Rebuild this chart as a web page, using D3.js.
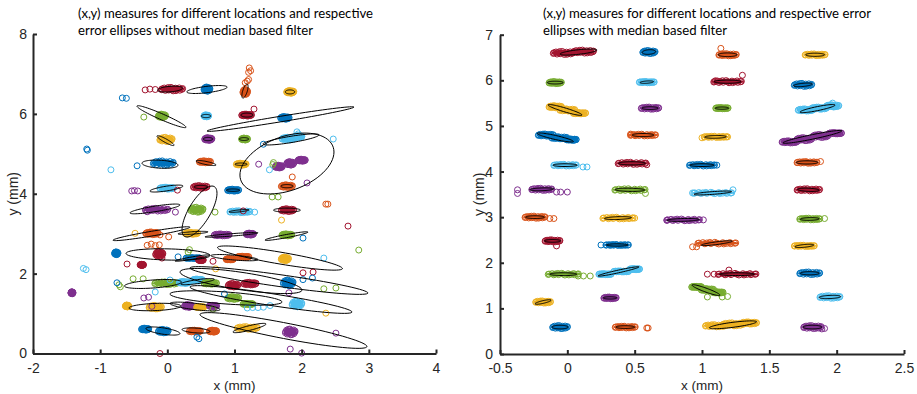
<!DOCTYPE html>
<html><head><meta charset="utf-8">
<script src="https://cdn.jsdelivr.net/npm/d3@7"></script>
<style>body{margin:0;background:#fff}svg{display:block}</style>
</head><body><svg id="c" width="917" height="394"></svg>
<script>
// MATLAB default colour order
const COLORS = {B:"#0072BD", O:"#D95319", Y:"#EDB120", P:"#7E2F8E", G:"#77AC30", C:"#4DBEEE", R:"#A2142F"};

// ---------- LEFT PANEL (without median filter) ----------
const leftXTicks = [-2,-1,0,1,2,3,4];
const leftYTicks = [0,2,4,6,8];
const leftTitle = ["(x,y) measures for different locations and respective","error ellipses without median based filter"];
// dense clusters: [x, y, halfWidth, halfHeight, colour]
const leftBlobs = [
[0.07,6.62,0.21,0.12,"R"],[0.59,6.62,0.09,0.13,"B"],[1.16,6.55,0.08,0.14,"O"],[1.83,6.55,0.1,0.11,"Y"],
[-0.08,5.95,0.1,0.12,"G"],[0.58,5.95,0.08,0.1,"C"],[1.18,5.97,0.12,0.1,"R"],[1.75,5.9,0.11,0.11,"B"],
[-0.02,5.36,0.14,0.13,"Y"],[0.61,5.37,0.1,0.11,"P"],[1.15,5.37,0.09,0.1,"G"],[1.8,5.38,0.14,0.11,"C"],[1.95,5.43,0.1,0.1,"C"],
[-0.06,4.77,0.2,0.13,"B"],[0.56,4.8,0.13,0.1,"O"],[1.1,4.74,0.12,0.1,"Y"],[1.66,4.68,0.1,0.11,"P"],[1.83,4.76,0.1,0.12,"P"],[2.0,4.84,0.1,0.1,"P"],
[-0.01,4.14,0.15,0.1,"C"],[0.49,4.17,0.15,0.11,"R"],[0.98,4.09,0.13,0.1,"B"],[1.78,4.19,0.13,0.11,"O"],
[-0.16,3.6,0.22,0.11,"P"],[0.44,3.6,0.14,0.14,"G"],[1.08,3.55,0.2,0.1,"C"],[1.79,3.59,0.14,0.11,"R"],
[-0.23,3.01,0.14,0.11,"O"],[0.36,3.01,0.14,0.1,"Y"],[0.81,2.97,0.16,0.1,"P"],[1.23,2.99,0.1,0.1,"P"],[1.78,2.97,0.12,0.1,"G"],
[-0.76,2.51,0.07,0.11,"B"],[-0.12,2.49,0.1,0.14,"R"],[-0.38,2.22,0.07,0.07,"R"],[0.38,2.39,0.15,0.08,"B"],[0.5,2.34,0.08,0.08,"R"],
[0.93,2.36,0.1,0.09,"O"],[1.13,2.42,0.13,0.09,"O"],[1.75,2.37,0.1,0.12,"Y"],
[-0.02,1.76,0.22,0.11,"G"],[0.25,1.78,0.12,0.1,"C"],[0.45,1.84,0.12,0.1,"C"],[0.64,1.76,0.14,0.1,"G"],
[0.98,1.71,0.12,0.12,"R"],[1.23,1.75,0.14,0.11,"R"],[1.8,1.77,0.12,0.15,"B"],[-1.42,1.52,0.06,0.1,"P"],
[-0.6,1.19,0.07,0.1,"Y"],[-0.18,1.16,0.14,0.12,"Y"],[0.31,1.19,0.1,0.11,"P"],[0.49,1.16,0.1,0.09,"Y"],[0.68,1.19,0.1,0.09,"P"],
[0.98,1.39,0.13,0.11,"G"],[1.2,1.24,0.12,0.09,"G"],[1.93,1.24,0.12,0.15,"C"],
[-0.33,0.61,0.1,0.1,"B"],[-0.06,0.56,0.12,0.12,"B"],[0.41,0.56,0.13,0.1,"O"],[0.68,0.56,0.1,0.1,"O"],
[1.19,0.64,0.2,0.11,"Y"],[1.83,0.54,0.12,0.15,"P"]
];
// scattered single measures: [x, y, colour]
const leftOutliers = [
[-0.33,6.6,"R"],[-0.26,6.62,"R"],[-0.18,6.61,"R"],[1.29,6.12,"R"],[0.15,4.09,"R"],[1.13,3.57,"R"],[2.69,3.19,"R"],[-0.6,2.24,"R"],[2.02,2.02,"R"],[2.17,2.04,"R"],[-0.11,0.0,"R"],[-0.08,2.39,"R"],[0.68,2.31,"R"],
[1.22,7.15,"O"],[1.24,7.08,"O"],[1.21,7.04,"O"],[1.19,6.82,"O"],[1.21,6.86,"O"],[1.16,6.78,"O"],[1.86,4.42,"O"],[2.36,3.74,"O"],[2.39,3.74,"O"],[-0.3,2.71,"O"],[-0.24,2.74,"O"],[-0.18,2.7,"O"],[-0.12,2.72,"O"],[-0.11,2.97,"O"],[0.02,2.92,"O"],
[-0.48,3.01,"Y"],[1.7,3.34,"Y"],[0.72,2.12,"Y"],[2.36,1.01,"Y"],
[-0.53,4.07,"P"],[-0.49,4.08,"P"],[-0.44,4.07,"P"],[1.36,4.74,"P"],[2.08,4.27,"P"],[-0.3,3.55,"P"],[0.12,3.54,"P"],[-0.35,1.39,"P"],[-0.28,1.41,"P"],[-0.23,1.18,"P"],[1.81,1.52,"P"],[2.51,0.51,"P"],[1.83,0.11,"P"],[2.0,0.01,"P"],
[-0.35,5.92,"G"],[1.57,4.73,"G"],[1.58,4.78,"G"],[1.56,3.92,"G"],[1.65,3.92,"G"],[0.71,3.54,"G"],[2.85,2.59,"G"],[0.31,2.54,"G"],[0.33,2.6,"G"],[-0.7,1.67,"G"],[-0.72,1.72,"G"],[-0.51,1.87,"G"],[-0.36,1.87,"G"],[2.33,1.62,"G"],[2.51,1.64,"G"],[0.68,1.11,"G"],
[-0.67,6.4,"B"],[-0.61,6.39,"B"],[-1.2,5.12,"B"],[-1.19,5.09,"B"],[-0.45,4.7,"B"],[1.43,5.24,"B"],[2.02,2.89,"B"],[2.02,1.85,"B"],[2.16,1.89,"B"],[0.85,1.49,"B"],[0.44,0.41,"B"],[0.47,0.37,"B"],[-0.75,1.77,"B"],[0.16,2.42,"B"],
[-0.84,4.6,"C"],[1.93,5.55,"C"],[1.95,5.5,"C"],[2.47,5.37,"C"],[1.52,4.6,"C"],[1.3,3.54,"C"],[-1.25,2.13,"C"],[-1.21,2.1,"C"],[2.33,2.39,"C"],[-0.18,1.54,"C"],[0.04,1.84,"C"],[1.19,1.14,"C"],[1.27,1.15,"C"],[1.35,1.15,"C"],[1.43,1.16,"C"],[1.53,1.2,"C"]
];
// error ellipses: [cx, cy, ux, uy, vx, vy] (two conjugate semi-diameters, data units)
const leftEllipses = [
[0.04,6.62,0.186,0.025,0,0.07],[0.59,6.61,0.30,0.06,0,0.08],[1.156,6.57,0.03,0.175,0.035,0],[1.826,6.55,0.07,0,0,0.05],
[-0.087,5.93,0.365,-0.263,0,0.08],[0.576,5.946,0.07,0,0,0.04],[1.186,5.97,0.09,0,0,0.05],[1.685,5.87,1.094,0.30,0,0.07],
[-0.027,5.33,0.127,-0.113,0,0.05],[0.605,5.37,0.07,0,0,0.04],[1.141,5.37,0.07,0,0,0.035],[1.841,5.36,0.417,0.113,0,0.08],
[1.781,4.757,0.70,0.288,0,0.706],[-0.109,4.74,0.268,-0.025,0,0.1],[0.576,4.77,0.149,-0.05,0,0.04],[1.097,4.74,0.09,0,0,0.03],
[1.781,4.19,0.09,0,0,0.04],[-0.013,4.13,0.246,0.063,0,0.06],[0.50,4.17,0.1,0,0,0.04],[0.479,3.555,0.186,0.638,0.182,0],
[0.978,4.09,0.1,0,0,0.03],[-0.184,3.62,0.372,0.1,0,0.07],[1.067,3.57,0.149,0.025,0,0.025],[1.781,3.59,0.2,0,0,0.05],
[-0.236,3.0,0.573,0.163,0,0.06],[0.382,3.02,0.223,0.025,0,0.03],[0.955,2.97,0.395,0.05,0,0.03],[1.774,2.94,0.32,0.1,0,0.04],
[0.01,2.48,0.625,-0.025,0,0.14],[0.375,2.39,0.26,0.075,0,0.03],[1.0,2.4,0.35,-0.05,0,0.06],[1.677,2.39,0.93,-0.263,0,0.15],
[1.097,1.815,0.908,-0.225,0,0.22],[1.662,1.828,1.325,-0.313,0,0.15],[0.873,1.39,0.834,-0.1,0,0.15],[1.543,1.352,1.206,-0.313,0,0.15],
[1.729,0.576,1.243,-0.4,0,0.2],[-0.214,1.74,0.424,0.05,0,0.1],[-0.184,1.164,0.387,0.025,0,0.09],[0.412,1.177,0.372,-0.075,0,0.08],
[-0.065,0.563,0.253,-0.063,0,0.08],[0.427,0.576,0.208,-0.025,0,0.06],[1.223,0.638,0.246,0.1,0,0.06],[0.45,1.8,0.25,0.06,0,0.05]
];

// ---------- RIGHT PANEL (with median filter) ----------
const rightXTicks = [-0.5,0,0.5,1,1.5,2,2.5];
const rightYTicks = [0,1,2,3,4,5,6,7];
const rightTitle = ["(x,y) measures for different locations and respective error","ellipses with median based filter"];
const rightBlobs = [
[-0.03,6.6,0.1,0.1,"R"],[0.12,6.63,0.1,0.1,"R"],[0.606,6.62,0.07,0.1,"B"],[1.19,6.56,0.09,0.09,"O"],[1.84,6.56,0.1,0.085,"Y"],
[-0.09,5.95,0.07,0.09,"G"],[0.59,5.96,0.08,0.08,"C"],[1.19,5.97,0.13,0.09,"R"],[1.75,5.9,0.09,0.1,"B"],
[-0.09,5.42,0.07,0.09,"Y"],[0.0,5.35,0.08,0.09,"Y"],[0.09,5.28,0.07,0.08,"Y"],[0.614,5.39,0.09,0.09,"P"],[1.148,5.39,0.07,0.08,"G"],
[1.77,5.35,0.08,0.09,"C"],[1.87,5.39,0.08,0.09,"C"],[1.97,5.44,0.07,0.09,"C"],
[-0.16,4.8,0.08,0.09,"B"],[-0.06,4.74,0.08,0.09,"B"],[0.03,4.7,0.06,0.08,"B"],[0.562,4.8,0.12,0.085,"O"],[1.1,4.76,0.11,0.08,"Y"],
[1.65,4.65,0.08,0.09,"P"],[1.76,4.71,0.08,0.1,"P"],[1.88,4.78,0.08,0.1,"P"],[1.99,4.84,0.07,0.08,"P"],
[-0.017,4.14,0.11,0.085,"C"],[0.48,4.18,0.13,0.09,"R"],[1.0,4.14,0.12,0.085,"B"],[1.78,4.2,0.1,0.085,"O"],
[-0.19,3.61,0.1,0.09,"P"],[0.465,3.6,0.14,0.09,"G"],[1.08,3.53,0.17,0.08,"C"],[1.79,3.6,0.11,0.09,"R"],
[-0.24,3.0,0.1,0.09,"O"],[0.376,2.98,0.14,0.085,"Y"],[0.86,2.94,0.15,0.085,"P"],[1.8,2.96,0.1,0.085,"G"],
[-0.11,2.48,0.08,0.09,"R"],[0.37,2.39,0.11,0.075,"B"],[1.11,2.43,0.17,0.085,"O"],[1.76,2.37,0.1,0.08,"Y"],
[-0.03,1.75,0.14,0.085,"G"],[0.28,1.75,0.07,0.07,"C"],[0.4,1.81,0.08,0.075,"C"],[0.5,1.86,0.06,0.07,"C"],[1.26,1.75,0.17,0.085,"R"],[1.8,1.77,0.1,0.095,"B"],
[-0.18,1.14,0.08,0.09,"Y"],[0.317,1.23,0.07,0.085,"P"],[0.96,1.47,0.06,0.08,"G"],[1.04,1.41,0.07,0.09,"G"],[1.12,1.35,0.06,0.08,"G"],[1.95,1.25,0.1,0.095,"C"],
[-0.054,0.59,0.08,0.1,"B"],[0.43,0.59,0.1,0.085,"O"],[1.1,0.62,0.1,0.09,"Y"],[1.23,0.65,0.1,0.1,"Y"],[1.35,0.68,0.08,0.09,"Y"],[1.82,0.59,0.09,0.1,"P"]
];
const rightOutliers = [
[1.14,6.7,"O"],[0.47,4.82,"O"],[1.88,4.22,"O"],[-0.13,2.97,"O"],[-0.1,2.97,"O"],[0.93,2.35,"O"],[0.96,2.35,"O"],[0.59,0.57,"O"],[0.6,0.57,"O"],
[1.1,5.99,"R"],[1.3,6.11,"R"],[0.59,4.15,"R"],[-0.08,2.37,"R"],[1.04,1.75,"R"],[1.09,1.75,"R"],[1.2,1.84,"R"],
[1.97,5.5,"C"],[1.98,5.42,"C"],[1.95,5.45,"C"],[0.116,4.1,"C"],[0.146,4.1,"C"],[0.93,3.53,"C"],[1.23,3.6,"C"],
[0.05,4.69,"B"],[1.11,4.14,"B"],[0.25,2.39,"B"],
[1.0,4.74,"Y"],[1.19,4.76,"Y"],[0.5,2.98,"Y"],
[-0.37,3.6,"P"],[-0.37,3.52,"P"],[-0.08,3.55,"P"],[-0.05,3.55,"P"],[0.0,3.55,"P"],[0.74,2.93,"P"],[1.01,2.94,"P"],[1.89,0.55,"P"],[1.91,0.56,"P"],
[0.58,3.52,"G"],[0.08,1.71,"G"],[0.12,1.71,"G"],[0.17,1.71,"G"],[1.04,1.25,"G"],[1.15,1.25,"G"],[1.19,1.26,"G"],[1.91,2.97,"G"]
];
const rightEllipses = [
[0.083,6.62,0.137,0.044,0,0.05],[0.606,6.62,0.05,0.01,0,0.05],[1.19,6.56,0.07,0,0,0.04],[1.84,6.56,0.07,0,0,0.035],
[-0.09,5.95,0.06,0,0,0.03],[0.59,5.96,0.05,0.01,0,0.025],[1.19,5.97,0.1,0,0,0.035],[1.75,5.9,0.07,0.02,0,0.035],
[-0.017,5.35,0.126,-0.11,0,0.045],[0.614,5.39,0.06,0,0,0.03],[1.148,5.39,0.05,0,0,0.025],[1.858,5.38,0.13,0.077,0,0.045],
[-0.089,4.747,0.134,-0.088,0,0.045],[0.562,4.8,0.08,0,0,0.035],[1.1,4.76,0.08,0.005,0,0.03],[1.82,4.76,0.219,0.132,0,0.05],
[-0.017,4.14,0.09,0,0,0.03],[0.48,4.18,0.1,0,0,0.035],[1.0,4.14,0.09,0,0,0.03],[1.78,4.2,0.08,0,0,0.035],
[-0.19,3.61,0.09,0.01,0,0.03],[0.465,3.6,0.11,-0.005,0,0.035],[1.08,3.53,0.14,0.03,0,0.03],[1.79,3.6,0.08,-0.01,0,0.035],
[-0.24,3.0,0.07,0,0,0.03],[0.376,2.98,0.1,0.01,0,0.03],[0.86,2.94,0.12,0.01,0,0.03],[1.8,2.96,0.07,0.005,0,0.03],
[-0.11,2.48,0.06,0,0,0.03],[0.37,2.39,0.08,0,0,0.025],[1.11,2.43,0.115,0.044,0,0.03],[1.76,2.37,0.07,0.02,0,0.03],
[-0.03,1.75,0.1,0,0,0.03],[0.38,1.81,0.152,0.099,0,0.03],[1.26,1.75,0.13,0,0,0.03],[1.8,1.77,0.07,0,0,0.035],
[-0.18,1.14,0.06,0.04,0,0.03],[0.317,1.23,0.05,0,0,0.025],[1.03,1.40,0.104,-0.11,0,0.045],[1.95,1.25,0.08,0.01,0,0.035],
[-0.054,0.59,0.06,0,0,0.04],[0.43,0.59,0.07,0,0,0.03],[1.23,0.64,0.175,0.066,0,0.055],[1.82,0.59,0.07,0,0,0.04]
];

// marker layout inside a dense cluster (unit offsets) – a drawing template
const blobTemplate = [[0,0],[0.5,0.2],[-0.5,-0.2],[0.3,-0.5],[-0.3,0.5],[0.9,0.1],[-0.9,-0.1],[0.7,0.6],[-0.7,-0.6],
  [0.65,-0.65],[-0.6,0.7],[0.1,0.95],[-0.1,-0.95],[0.95,-0.3],[-0.95,0.3],[0.35,0.85],[-0.35,-0.85]];

const svg = d3.select("#c");
const MR = 3; // marker radius
const TXT = "#262626";
const FONT = "'Liberation Sans', Arial, sans-serif";

function panel(cfg){
  const x = d3.scaleLinear().domain(cfg.xd).range(cfg.xr);
  const y = d3.scaleLinear().domain(cfg.yd).range(cfg.yr);
  const g = svg.append("g");

  // dense clusters
  cfg.blobs.forEach(b=>{
    const [bx,by,rx,ry,c] = b;
    const sx = Math.max(0.5, Math.abs(x(bx+rx)-x(bx)) - MR);
    const sy = Math.max(0.5, Math.abs(y(by+ry)-y(by)) - MR);
    const cxp = x(bx), cyp = y(by);
    g.append("ellipse").attr("cx",cxp).attr("cy",cyp).attr("rx",sx+1.5).attr("ry",sy+1.5)
      .attr("fill",COLORS[c]);
    g.selectAll(null).data(blobTemplate).enter().append("circle")
      .attr("cx",d=>cxp+d[0]*sx).attr("cy",d=>cyp+d[1]*sy).attr("r",MR)
      .attr("fill","none").attr("stroke",COLORS[c]).attr("stroke-width",1);
  });
  // single measures
  g.selectAll(null).data(cfg.outliers).enter().append("circle")
    .attr("cx",d=>x(d[0])).attr("cy",d=>y(d[1])).attr("r",MR)
    .attr("fill","none").attr("stroke",d=>COLORS[d[2]]).attr("stroke-width",1);

  // error ellipses
  const ts = d3.range(0, 73).map(i=>i/72*2*Math.PI);
  const line = d3.line().x(p=>x(p[0])).y(p=>y(p[1]));
  cfg.ellipses.forEach(e=>{
    const [cx,cy,ux,uy,vx,vy] = e;
    const pts = ts.map(t=>[cx+ux*Math.cos(t)+vx*Math.sin(t), cy+uy*Math.cos(t)+vy*Math.sin(t)]);
    g.append("path").attr("d",line(pts)).attr("fill","none").attr("stroke","#000").attr("stroke-width",1);
  });

  // axes
  const ax = g.append("g").attr("transform",`translate(0,${cfg.yr[0]})`)
    .call(d3.axisBottom(x).tickValues(cfg.xt).tickFormat(d=>String(d)).tickSizeInner(-4).tickSizeOuter(0).tickPadding(9.5));
  const ay = g.append("g").attr("transform",`translate(${cfg.xr[0]},0)`)
    .call(d3.axisLeft(y).tickValues(cfg.yt).tickFormat(d=>String(d)).tickSizeInner(-4).tickSizeOuter(0).tickPadding(cfg.ypad));
  [ax,ay].forEach(a=>{
    a.select(".domain").attr("stroke",TXT).attr("stroke-width",2);
    a.selectAll(".tick line").attr("stroke",TXT).attr("stroke-width",2);
    a.selectAll(".tick text").attr("fill",TXT).style("font-family",FONT).style("font-size","14px");
  });
  g.append("text").attr("x",(cfg.xr[0]+cfg.xr[1])/2).attr("y",389.5).attr("text-anchor","middle")
    .attr("fill",TXT).style("font-family",FONT).style("font-size","13.5px").text("x (mm)");
  g.append("text").attr("transform",`translate(${cfg.ylx},${(cfg.yr[0]+cfg.yr[1])/2}) rotate(-90)`).attr("text-anchor","middle")
    .attr("fill",TXT).style("font-family",FONT).style("font-size","14px").text("y (mm)");
  cfg.title.forEach((t,i)=>{
    g.append("text").attr("x",cfg.tx).attr("y",18+i*16.5).attr("fill","#000")
      .attr("textLength",cfg.tw[i]).attr("lengthAdjust","spacingAndGlyphs")
      .style("font-family","Lato, 'Open Sans', sans-serif").style("font-size","13px").text(t);
  });
}

panel({xd:[-2,4], yd:[0,8], xr:[33,436], yr:[353.5,34], xt:leftXTicks, yt:leftYTicks, ypad:6, ylx:18,
  blobs:leftBlobs, outliers:leftOutliers, ellipses:leftEllipses, title:leftTitle, tx:78, tw:[295,235]});
panel({xd:[-0.5,2.5], yd:[0,7], xr:[500,904], yr:[354,34.7], xt:rightXTicks, yt:rightYTicks, ypad:7, ylx:484,
  blobs:rightBlobs, outliers:rightOutliers, ellipses:rightEllipses, title:rightTitle, tx:543, tw:[328,184]});
</script></body></html>
